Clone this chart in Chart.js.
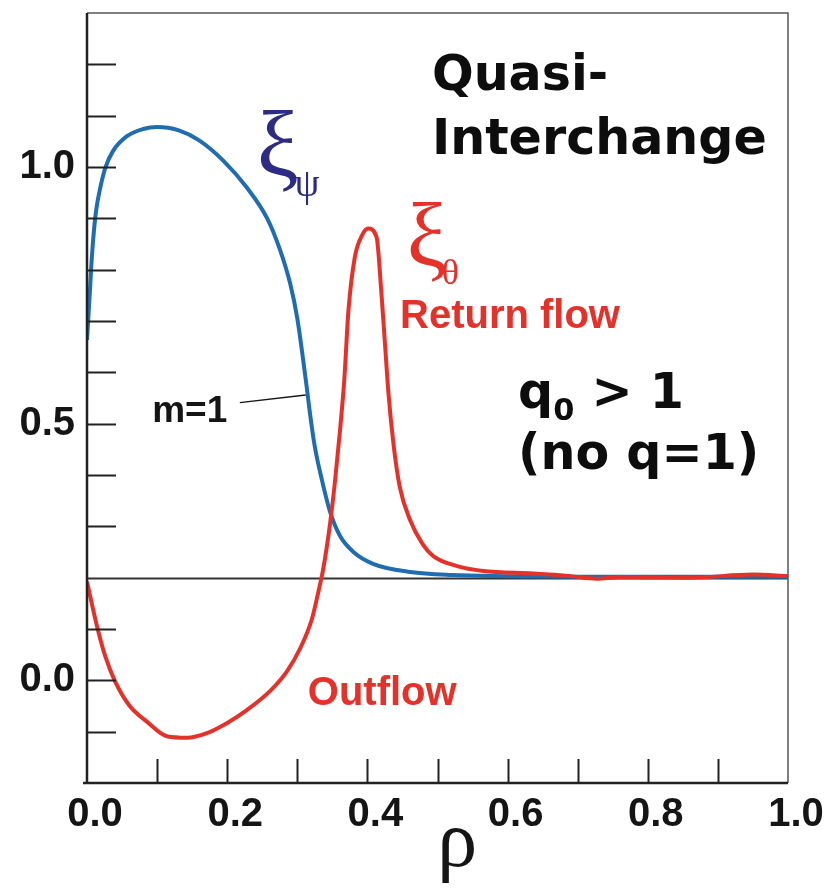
<!DOCTYPE html>
<html>
<head>
<meta charset="utf-8">
<script src="https://cdn.jsdelivr.net/npm/chart.js@4.4.1/dist/chart.umd.min.js"></script>
<style>
  html, body { margin: 0; padding: 0; background: #ffffff; }
  #wrap { width: 828px; height: 889px; }
</style>
</head>
<body>
<div id="wrap"><canvas id="quasiChart" width="828" height="889"></canvas></div>
<script>
// Radial displacement xi_psi (m=1)
var rhoPsi = [0.000, 0.004, 0.006, 0.009, 0.013, 0.019, 0.026, 0.037, 0.057, 0.080,
              0.100, 0.130, 0.160, 0.194, 0.228, 0.257, 0.275, 0.290, 0.300, 0.308,
              0.314, 0.318, 0.325, 0.335, 0.347, 0.361, 0.380, 0.408, 0.461, 0.520,
              0.600, 0.700, 0.800, 0.900, 1.000];
var xiPsi  = [0.663, 0.754, 0.804, 0.862, 0.915, 0.960, 0.998, 1.031, 1.060, 1.074,
              1.078, 1.072, 1.052, 1.013, 0.960, 0.900, 0.840, 0.772, 0.705, 0.628,
              0.565, 0.521, 0.455, 0.391, 0.327, 0.281, 0.250, 0.227, 0.211, 0.205,
              0.203, 0.202, 0.202, 0.202, 0.202];

// Poloidal displacement xi_theta
var rhoTheta = [0.000, 0.014, 0.026, 0.040, 0.061, 0.085, 0.114, 0.143, 0.171, 0.200,
                0.228, 0.261, 0.285, 0.304, 0.321, 0.330, 0.337, 0.347, 0.354, 0.361,
                0.367, 0.373, 0.382, 0.392, 0.401, 0.413, 0.420, 0.425, 0.430, 0.437,
                0.446, 0.461, 0.479, 0.494, 0.527, 0.565, 0.637, 0.690, 0.727, 0.760,
                0.860, 0.950, 1.000];
var xiTheta  = [0.192, 0.107, 0.047, -0.002, -0.050, -0.080, -0.109, -0.112, -0.103, -0.083,
                -0.058, -0.021, 0.017, 0.062, 0.120, 0.172, 0.217, 0.308, 0.391, 0.488,
                0.585, 0.721, 0.824, 0.866, 0.880, 0.864, 0.754, 0.657, 0.560, 0.463,
                0.378, 0.312, 0.265, 0.242, 0.223, 0.213, 0.208, 0.203, 0.198, 0.201,
                0.200, 0.206, 0.203];

// Axis ticks
var xTickValues = [0.0, 0.2, 0.4, 0.6, 0.8, 1.0];
var yTickValues = [0.0, 0.5, 1.0];
var xMinorTicks = [0.1, 0.2, 0.3, 0.4, 0.5, 0.6, 0.7, 0.8, 0.9];
var yMinorTicks = [-0.1, 0.0, 0.1, 0.3, 0.4, 0.5, 0.6, 0.7, 0.8, 0.9, 1.0, 1.1, 1.2];
var zeroLine = 0.2;

var BLUE = '#1f6db0';
var RED = '#e4322b';
var NAVY = '#2d2c85';
var INK = '#151515';

function toPoints(xs, ys) {
    var pts = [];
    for (var i = 0; i < xs.length; i++) {
        pts.push({x: xs[i], y: ys[i]});
    }
    return pts;
}

// Fit a font size so a piece of text spans a given pixel width
function fitSize(ctx, text, width, weight, family) {
    ctx.font = weight + ' 100px ' + family;
    return 100 * width / ctx.measureText(text).width;
}

var annotate = {
    id: 'annotate',
    beforeDatasetsDraw: function (chart) {
        var ctx = chart.ctx, a = chart.chartArea, ys = chart.scales.y;
        var y0 = Math.round(ys.getPixelForValue(zeroLine)) + 0.5;
        ctx.save();
        ctx.strokeStyle = '#333';
        ctx.lineWidth = 2;
        ctx.beginPath();
        ctx.moveTo(a.left, y0);
        ctx.lineTo(a.right, y0);
        ctx.stroke();
        ctx.restore();
    },
    afterDatasetsDraw: function (chart) {
        var ctx = chart.ctx, a = chart.chartArea;
        var xs = chart.scales.x, ys = chart.scales.y;
        function px(r) { return xs.getPixelForValue(r); }
        function py(v) { return ys.getPixelForValue(v); }

        ctx.save();
        // frame: heavy left/bottom, light top/right
        ctx.strokeStyle = '#555';
        ctx.lineWidth = 1.5;
        ctx.beginPath();
        ctx.moveTo(a.left, a.top);
        ctx.lineTo(a.right, a.top);
        ctx.lineTo(a.right, a.bottom);
        ctx.stroke();
        ctx.strokeStyle = '#222';
        ctx.lineWidth = 2.5;
        ctx.beginPath();
        ctx.moveTo(a.left, a.top);
        ctx.lineTo(a.left, a.bottom);
        ctx.moveTo(a.left - 4, a.bottom);
        ctx.lineTo(a.right, a.bottom);
        ctx.stroke();

        // inward tick marks
        ctx.lineWidth = 2;
        ctx.beginPath();
        yMinorTicks.forEach(function (v) {
            var y = Math.round(py(v)) + 0.5;
            ctx.moveTo(a.left, y);
            ctx.lineTo(a.left + 29, y);
        });
        xMinorTicks.forEach(function (r) {
            var x = Math.round(px(r)) + 0.5;
            ctx.moveTo(x, a.bottom);
            ctx.lineTo(x, a.bottom - 24);
        });
        ctx.stroke();

        ctx.textAlign = 'left';
        ctx.textBaseline = 'alphabetic';

        // Quasi-Interchange title
        var gothic = '"DejaVu Sans"';
        var gs = fitSize(ctx, 'Interchange', 335, 'bold', gothic);
        ctx.fillStyle = '#0d0d0d';
        ctx.font = 'bold ' + gs + 'px ' + gothic;
        ctx.fillText('Quasi-', px(0.492), py(1.150));
        ctx.fillText('Interchange', px(0.492), py(1.025));

        // q0 > 1 (no q=1)
        var qx = px(0.615), qy = py(0.531);
        ctx.fillText('q', qx, qy);
        var qw = ctx.measureText('q').width;
        ctx.font = 'bold ' + (gs * 0.62) + 'px ' + gothic;
        ctx.fillText('0', qx + qw, qy + 12);
        var zw = ctx.measureText('0').width;
        ctx.font = 'bold ' + gs + 'px ' + gothic;
        ctx.fillText(' > 1', qx + qw + zw, qy);
        ctx.fillText('(no q=1)', px(0.615), py(0.411));

        // xi_psi label
        var serif = '"Liberation Serif", "DejaVu Serif", serif';
        ctx.fillStyle = NAVY;
        ctx.font = '94px ' + serif;
        ctx.fillText('\u03BE', px(0.242), py(0.985));
        ctx.font = '40px ' + serif;
        ctx.fillText('\u03C8', px(0.296), py(0.944));

        // xi_theta label
        ctx.fillStyle = RED;
        ctx.font = '90px ' + serif;
        ctx.fillText('\u03BE', px(0.456), py(0.808));
        ctx.font = '36px ' + serif;
        ctx.fillText('\u03B8', px(0.506), py(0.773));

        // flow labels
        var sans = '"Liberation Sans", Arial, sans-serif';
        ctx.font = 'bold 40px ' + sans;
        ctx.fillText('Return flow', px(0.4465), py(0.686));
        ctx.fillText('Outflow', px(0.315), py(-0.048));

        // m=1 with leader line
        ctx.fillStyle = INK;
        ctx.font = 'bold 37px ' + sans;
        ctx.fillText('m=1', px(0.093), py(0.504));
        ctx.strokeStyle = INK;
        ctx.lineWidth = 1.5;
        ctx.beginPath();
        ctx.moveTo(px(0.218), py(0.541));
        ctx.lineTo(px(0.312), py(0.556));
        ctx.stroke();

        // rho axis label
        ctx.fillStyle = INK;
        ctx.textAlign = 'center';
        ctx.font = '80px ' + serif;
        ctx.fillText('\u03C1', px(0.528), a.bottom + 83);
        ctx.restore();
    }
};

var ctx = document.getElementById('quasiChart').getContext('2d');
new Chart(ctx, {
    type: 'line',
    data: {
        datasets: [
            {
                label: 'xi_theta',
                data: toPoints(rhoTheta, xiTheta),
                borderColor: RED,
                borderWidth: 4,
                pointRadius: 0,
                cubicInterpolationMode: 'monotone',
                fill: false
            },
            {
                label: 'xi_psi',
                data: toPoints(rhoPsi, xiPsi),
                borderColor: BLUE,
                borderWidth: 4,
                pointRadius: 0,
                cubicInterpolationMode: 'monotone',
                fill: false
            }
        ]
    },
    options: {
        responsive: false,
        animation: false,
        devicePixelRatio: 1,
        layout: {padding: {top: 13, right: 40, left: 0, bottom: 0}},
        plugins: {
            legend: {display: false},
            tooltip: {enabled: false}
        },
        scales: {
            x: {
                type: 'linear',
                min: 0,
                max: 1,
                grid: {display: false, drawTicks: false},
                border: {display: false},
                afterFit: function (scale) {
                    scale.height = 106;
                    scale.paddingLeft = 0;
                    scale.paddingRight = 0;
                },
                afterBuildTicks: function (scale) {
                    scale.ticks = xTickValues.map(function (v) { return {value: v}; });
                },
                ticks: {
                    padding: 8,
                    labelOffset: 8,
                    maxRotation: 0,
                    color: INK,
                    font: {family: '"Liberation Sans", Arial, sans-serif', size: 40, weight: 'bold'},
                    callback: function (v) { return Number(v).toFixed(1); }
                }
            },
            y: {
                type: 'linear',
                min: -0.2,
                max: 1.3,
                grid: {display: false, drawTicks: false},
                border: {display: false},
                afterFit: function (scale) {
                    scale.width = 87;
                    scale.paddingTop = 0;
                    scale.paddingBottom = 0;
                },
                afterBuildTicks: function (scale) {
                    scale.ticks = yTickValues.map(function (v) { return {value: v}; });
                },
                ticks: {
                    padding: 12,
                    color: INK,
                    font: {family: '"Liberation Sans", Arial, sans-serif', size: 40, weight: 'bold'},
                    callback: function (v) { return Number(v).toFixed(1); }
                }
            }
        }
    },
    plugins: [annotate]
});
</script>
</body>
</html>
